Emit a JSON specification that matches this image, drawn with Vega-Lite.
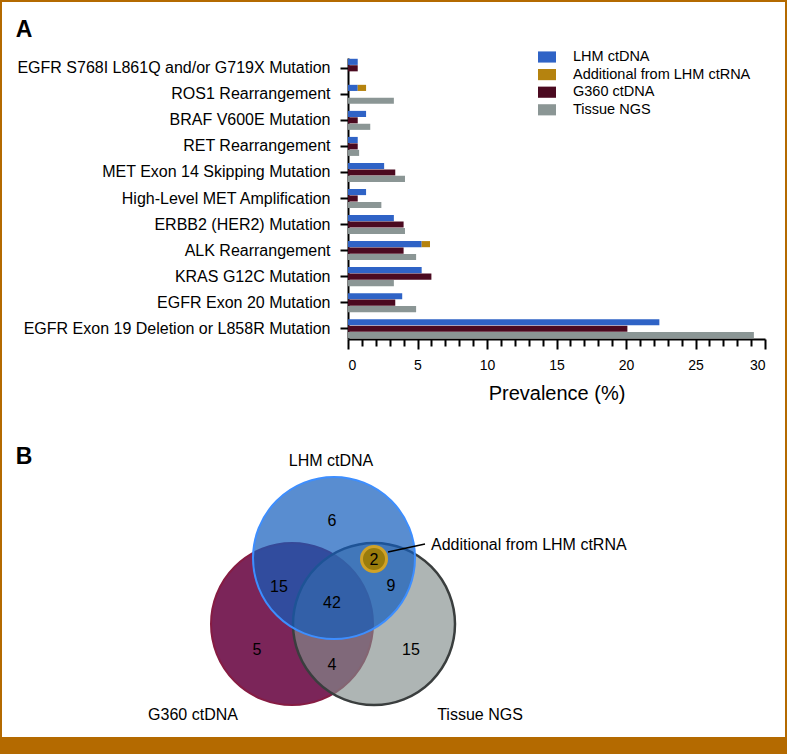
{
  "$schema": "https://vega.github.io/schema/vega-lite/v6.json",
  "autosize": {"type": "none"},
  "width": 439,
  "height": 339,
  "padding": {"left": 348, "top": 0, "right": 0, "bottom": 415},
  "background": "white",
  "config": {"font": "Liberation Sans", "view": {"stroke": null}},
  "datasets": {
    "bars": [
      {"gene": "EGFR S768I L861Q and/or G719X Mutation", "series": "LHM ctDNA", "row": "LHM", "value": 0.7},
      {"gene": "EGFR S768I L861Q and/or G719X Mutation", "series": "G360 ctDNA", "row": "G360", "value": 0.7},
      {"gene": "EGFR S768I L861Q and/or G719X Mutation", "series": "Tissue NGS", "row": "Tissue", "value": 0},
      {"gene": "ROS1 Rearrangement", "series": "LHM ctDNA", "row": "LHM", "value": 0.7},
      {"gene": "ROS1 Rearrangement", "series": "Additional from LHM ctRNA", "row": "LHM", "value": 0.6},
      {"gene": "ROS1 Rearrangement", "series": "G360 ctDNA", "row": "G360", "value": 0},
      {"gene": "ROS1 Rearrangement", "series": "Tissue NGS", "row": "Tissue", "value": 3.3},
      {"gene": "BRAF V600E Mutation", "series": "LHM ctDNA", "row": "LHM", "value": 1.3},
      {"gene": "BRAF V600E Mutation", "series": "G360 ctDNA", "row": "G360", "value": 0.7},
      {"gene": "BRAF V600E Mutation", "series": "Tissue NGS", "row": "Tissue", "value": 1.6},
      {"gene": "RET Rearrangement", "series": "LHM ctDNA", "row": "LHM", "value": 0.7},
      {"gene": "RET Rearrangement", "series": "G360 ctDNA", "row": "G360", "value": 0.7},
      {"gene": "RET Rearrangement", "series": "Tissue NGS", "row": "Tissue", "value": 0.8},
      {"gene": "MET Exon 14 Skipping Mutation", "series": "LHM ctDNA", "row": "LHM", "value": 2.6},
      {"gene": "MET Exon 14 Skipping Mutation", "series": "G360 ctDNA", "row": "G360", "value": 3.4},
      {"gene": "MET Exon 14 Skipping Mutation", "series": "Tissue NGS", "row": "Tissue", "value": 4.1},
      {"gene": "High-Level MET Amplification", "series": "LHM ctDNA", "row": "LHM", "value": 1.3},
      {"gene": "High-Level MET Amplification", "series": "G360 ctDNA", "row": "G360", "value": 0.7},
      {"gene": "High-Level MET Amplification", "series": "Tissue NGS", "row": "Tissue", "value": 2.4},
      {"gene": "ERBB2 (HER2) Mutation", "series": "LHM ctDNA", "row": "LHM", "value": 3.3},
      {"gene": "ERBB2 (HER2) Mutation", "series": "G360 ctDNA", "row": "G360", "value": 4.0},
      {"gene": "ERBB2 (HER2) Mutation", "series": "Tissue NGS", "row": "Tissue", "value": 4.1},
      {"gene": "ALK Rearrangement", "series": "LHM ctDNA", "row": "LHM", "value": 5.3},
      {"gene": "ALK Rearrangement", "series": "Additional from LHM ctRNA", "row": "LHM", "value": 0.6},
      {"gene": "ALK Rearrangement", "series": "G360 ctDNA", "row": "G360", "value": 4.0},
      {"gene": "ALK Rearrangement", "series": "Tissue NGS", "row": "Tissue", "value": 4.9},
      {"gene": "KRAS G12C Mutation", "series": "LHM ctDNA", "row": "LHM", "value": 5.3},
      {"gene": "KRAS G12C Mutation", "series": "G360 ctDNA", "row": "G360", "value": 6.0},
      {"gene": "KRAS G12C Mutation", "series": "Tissue NGS", "row": "Tissue", "value": 3.3},
      {"gene": "EGFR Exon 20 Mutation", "series": "LHM ctDNA", "row": "LHM", "value": 3.9},
      {"gene": "EGFR Exon 20 Mutation", "series": "G360 ctDNA", "row": "G360", "value": 3.4},
      {"gene": "EGFR Exon 20 Mutation", "series": "Tissue NGS", "row": "Tissue", "value": 4.9},
      {"gene": "EGFR Exon 19 Deletion or L858R Mutation", "series": "LHM ctDNA", "row": "LHM", "value": 22.4},
      {"gene": "EGFR Exon 19 Deletion or L858R Mutation", "series": "G360 ctDNA", "row": "G360", "value": 20.1},
      {"gene": "EGFR Exon 19 Deletion or L858R Mutation", "series": "Tissue NGS", "row": "Tissue", "value": 29.2}
    ],
    "sets": [
      {"set": "G360 ctDNA", "vx": 292, "vy": 624},
      {"set": "Tissue NGS", "vx": 374, "vy": 624},
      {"set": "LHM ctDNA", "vx": 334, "vy": 558},
      {"set": "Additional from LHM ctRNA", "vx": 374, "vy": 559}
    ],
    "counts": [
      {"region": "LHM only", "n": 6, "vx": 332, "vy": 521},
      {"region": "LHM ctRNA additional", "n": 2, "vx": 374, "vy": 560},
      {"region": "LHM and G360", "n": 15, "vx": 279, "vy": 587},
      {"region": "All three", "n": 42, "vx": 332, "vy": 603},
      {"region": "LHM and Tissue", "n": 9, "vx": 391, "vy": 586},
      {"region": "G360 only", "n": 5, "vx": 257, "vy": 650},
      {"region": "G360 and Tissue", "n": 4, "vx": 332, "vy": 665},
      {"region": "Tissue only", "n": 15, "vx": 411, "vy": 650}
    ],
    "setlabels": [
      {"label": "LHM ctDNA", "vx": 331, "vy": 461},
      {"label": "G360 ctDNA", "vx": 193, "vy": 715},
      {"label": "Tissue NGS", "vx": 480, "vy": 715}
    ],
    "callout": [
      {"label": "Additional from LHM ctRNA", "vx": 388, "vy": 552, "vx2": 425, "vy2": 544, "tx": 431, "ty": 545}
    ],
    "panels": [
      {"letter": "A", "vx": 24, "vy": 30},
      {"letter": "B", "vx": 24, "vy": 457}
    ],
    "frame": [
      {"part": "outline", "vx": 0, "vy": 0, "vx2": 787, "vy2": 754},
      {"part": "bar", "vx": 0, "vy": 737, "vx2": 787, "vy2": 754}
    ]
  },
  "layer": [
    {
      "data": {"name": "bars"},
      "mark": {"type": "bar"},
      "encoding": {
        "y": {
          "field": "gene", "type": "nominal", "title": null,
          "sort": ["EGFR S768I L861Q and/or G719X Mutation", "ROS1 Rearrangement", "BRAF V600E Mutation", "RET Rearrangement", "MET Exon 14 Skipping Mutation", "High-Level MET Amplification", "ERBB2 (HER2) Mutation", "ALK Rearrangement", "KRAS G12C Mutation", "EGFR Exon 20 Mutation", "EGFR Exon 19 Deletion or L858R Mutation"],
          "scale": {"range": [58, 339], "paddingInner": 0.27, "paddingOuter": 0.03},
          "axis": {"domainWidth": 2, "domainColor": "black", "tickWidth": 2, "tickColor": "black", "tickSize": 8, "labelPadding": 10, "labelFontSize": 16, "labelColor": "black", "labelLimit": 400}
        },
        "yOffset": {"field": "row", "type": "nominal", "sort": ["LHM", "G360", "Tissue"], "scale": {"paddingInner": 0.05, "paddingOuter": 0}},
        "x": {
          "field": "value", "type": "quantitative", "stack": "zero",
          "scale": {"domain": [0, 30], "range": [0, 417], "nice": false},
          "axis": {
            "values": [0,1,2,3,4,5,6,7,8,9,10,11,12,13,14,15,16,17,18,19,20,21,22,23,24,25,26,27,28,29,30],
            "labelExpr": "datum.value % 5 === 0 ? datum.label : ''",
            "labelOverlap": false,
            "tickSize": {"condition": {"test": "datum.value % 5 === 0", "value": 10}, "value": 7},
            "tickWidth": 2, "tickColor": "black", "domainWidth": 2, "domainColor": "black",
            "labelFontSize": 14, "labelColor": "black", "labelPadding": 9, "grid": false,
            "title": "Prevalence (%)", "titleFontSize": 20, "titleFontWeight": "normal", "titleColor": "black", "titlePadding": 11
          }
        },
        "color": {
          "field": "series", "type": "nominal",
          "scale": {"domain": ["LHM ctDNA", "Additional from LHM ctRNA", "G360 ctDNA", "Tissue NGS"], "range": ["#2F63C6", "#B5830F", "#4B0A20", "#8B9695"]},
          "legend": {"orient": "none", "legendX": 190, "legendY": 48, "title": null, "symbolType": "M-1,-0.62H1V0.62H-1Z", "symbolSize": 324, "symbolStrokeWidth": 0, "labelFontSize": 14.5, "labelColor": "black", "labelOffset": 17, "rowPadding": 1.6, "padding": 0, "labelLimit": 300}
        },
        "order": {"field": "series", "sort": "descending"}
      }
    },
    {
      "encoding": {
        "x": {"field": "vx", "type": "quantitative", "scale": {"domain": [0, 787], "range": [-348, 439], "nice": false, "zero": false}, "axis": null},
        "y": {"field": "vy", "type": "quantitative", "scale": {"domain": [0, 754], "range": [0, 754], "nice": false, "zero": false}, "axis": null}
      },
      "layer": [
        {"data": {"name": "frame"}, "transform": [{"filter": "datum.part === 'bar'"}], "mark": {"type": "rect", "color": "#B46A00"}, "encoding": {"x2": {"field": "vx2"}, "y2": {"field": "vy2"}}},
        {"data": {"name": "frame"}, "transform": [{"filter": "datum.part === 'outline'"}], "mark": {"type": "rect", "filled": false, "stroke": "#B46A00", "strokeWidth": 4}, "encoding": {"x2": {"field": "vx2"}, "y2": {"field": "vy2"}}},
        {"data": {"name": "sets"}, "transform": [{"filter": "datum.set === 'G360 ctDNA'"}], "mark": {"type": "point", "shape": "circle", "filled": true, "size": 26244, "opacity": 1, "fill": "#7B2559", "fillOpacity": 1, "stroke": "#861C43", "strokeWidth": 2, "strokeOpacity": 1}},
        {"data": {"name": "sets"}, "transform": [{"filter": "datum.set === 'Tissue NGS'"}], "mark": {"type": "point", "shape": "circle", "filled": true, "size": 26244, "opacity": 1, "fill": "#838D8C", "fillOpacity": 0.65, "stroke": "#3A3E3E", "strokeWidth": 2.5, "strokeOpacity": 1}},
        {"data": {"name": "sets"}, "transform": [{"filter": "datum.set === 'LHM ctDNA'"}], "mark": {"type": "point", "shape": "circle", "filled": true, "size": 26244, "opacity": 1, "fill": "#135CBC", "fillOpacity": 0.7, "stroke": "#3D8EFF", "strokeWidth": 2, "strokeOpacity": 1}},
        {"data": {"name": "sets"}, "transform": [{"filter": "datum.set === 'Additional from LHM ctRNA'"}], "mark": {"type": "point", "shape": "circle", "filled": true, "size": 625, "opacity": 1, "fill": "#9A7C0C", "fillOpacity": 1, "stroke": "#D0A227", "strokeWidth": 3, "strokeOpacity": 1}},
        {"data": {"name": "callout"}, "mark": {"type": "rule", "color": "black", "strokeWidth": 1.3}, "encoding": {"x2": {"field": "vx2"}, "y2": {"field": "vy2"}}},
        {"data": {"name": "callout"}, "mark": {"type": "text", "align": "left", "baseline": "middle", "fontSize": 16, "color": "black"}, "encoding": {"x": {"field": "tx", "type": "quantitative"}, "y": {"field": "ty", "type": "quantitative"}, "text": {"field": "label"}}},
        {"data": {"name": "counts"}, "mark": {"type": "text", "align": "center", "baseline": "middle", "fontSize": 16, "color": "black"}, "encoding": {"text": {"field": "n"}}},
        {"data": {"name": "setlabels"}, "mark": {"type": "text", "align": "center", "baseline": "middle", "fontSize": 16, "color": "black"}, "encoding": {"text": {"field": "label"}}},
        {"data": {"name": "panels"}, "mark": {"type": "text", "align": "center", "baseline": "middle", "fontSize": 23, "fontWeight": "bold", "color": "black"}, "encoding": {"text": {"field": "letter"}}}
      ]
    }
  ],
  "resolve": {"scale": {"x": "independent", "y": "independent"}}
}
